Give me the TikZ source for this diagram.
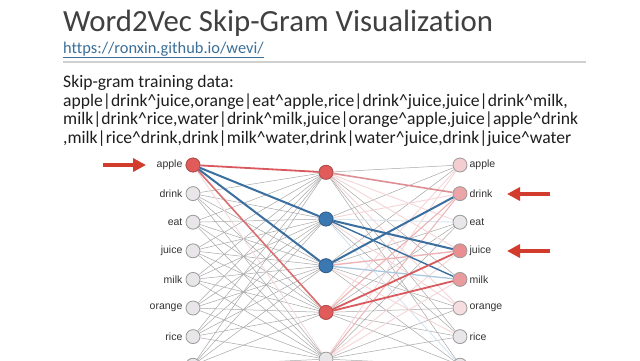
\documentclass[tikz,border=0pt]{standalone}
\usepackage{fontspec}
\setmainfont{Carlito}[Ligatures=NoCommon]
\newfontfamily\labfont{Liberation Sans}
\usetikzlibrary{arrows.meta}
\pgfdeclarelayer{bg}
\pgfsetlayers{bg,main}
\definecolor{titlegray}{HTML}{404040}
\definecolor{bodyblack}{HTML}{1E1E1E}
\definecolor{urlblue}{HTML}{3A6F98}
\definecolor{rulegray}{HTML}{D0D0D0}
\definecolor{labgray}{HTML}{333333}
\definecolor{nodegray}{HTML}{E8E6E8}
\definecolor{nodeborder}{HTML}{9A9A9A}
\definecolor{rednode}{HTML}{E25B5B}
\definecolor{bluenode}{HTML}{3B78B2}
\definecolor{arrred}{HTML}{D23C2C}
\definecolor{gr}{HTML}{A8A8A8}
\definecolor{fp}{HTML}{F4D6D8}
\definecolor{fb}{HTML}{D6E4EE}
\definecolor{pkA}{HTML}{EDB3B6}
\definecolor{pkB}{HTML}{DE8F93}
\definecolor{rd}{HTML}{D95A5E}
\definecolor{rdB}{HTML}{DC6E70}
\definecolor{lb}{HTML}{A9C7DD}
\definecolor{bl}{HTML}{3A6F9F}
\definecolor{oapple}{HTML}{F3CDD0}
\definecolor{odrink}{HTML}{EBA4A8}
\definecolor{ojuice}{HTML}{E98E91}
\definecolor{omilk}{HTML}{EA9B9E}
\definecolor{oorange}{HTML}{F6DDE0}
\tikzset{
  neuron/.style={circle, minimum size=14pt, inner sep=0pt, draw=nodeborder, line width=0.8pt, fill=nodegray},
  lab/.style={font=\labfont\fontsize{10.5}{12}\selectfont, text=labgray, inner sep=0pt},
  txt/.style={anchor=base west, inner sep=0pt, font=\fontsize{17.6}{20}\selectfont, text=bodyblack},
  bigarrow/.style={draw=arrred, line width=4pt, -{Triangle[length=13pt,width=13pt]}},
  thin/.style={draw=gr, line width=0.5pt}
}
\begin{document}
\begin{tikzpicture}[x=1pt,y=-1pt]
\useasboundingbox (0,0) rectangle (640,360);
\clip (0,0) rectangle (640,360);
\begin{pgfonlayer}{bg}
\fill[white] (0,0) rectangle (640,360);
\end{pgfonlayer}

% header
\node[anchor=base west, inner sep=0pt, font=\fontsize{30.8}{34}\selectfont, text=titlegray] (title) at (63,31) {Word2Vec Skip-Gram Visualization};
\node[anchor=base west, inner sep=0pt, font=\fontsize{16.4}{19}\selectfont, text=urlblue] (url) at (63,53) {https://ronxin.github.io/wevi/};
\draw[urlblue, line width=0.5pt] ([yshift=-4pt]url.base west) -- ([yshift=-4pt]url.base east);
\draw[rulegray, line width=1.5pt] (63,62) -- (586,62);

\node[txt] (t0) at (63,87) {Skip-gram training data:};
\node[txt] (t1) at (63,106) {apple|drink\textasciicircum juice,orange|eat\textasciicircum apple,rice|drink\textasciicircum juice,juice|drink\textasciicircum milk,};
\node[txt] (t2) at (63,124.5) {milk|drink\textasciicircum rice,water|drink\textasciicircum milk,juice|orange\textasciicircum apple,juice|apple\textasciicircum drink};
\node[txt] (t3) at (63,143) {,milk|rice\textasciicircum drink,drink|milk\textasciicircum water,drink|water\textasciicircum juice,drink|juice\textasciicircum water};

% input layer
\foreach \i in {1,...,8} {
  \node[neuron] (in\i) at (193,{165+28.6*(\i-1)}) {};
}
\foreach \w [count=\i] in {apple,drink,eat,juice,milk,orange,rice} {
  \node[lab, anchor=east] (inl\i) at ([xshift=-3pt]in\i.west) {\w};
}
\node[neuron, fill=rednode, draw=rednode!80!black] at (in1) {};

% hidden layer
\foreach \j in {1,...,5} {
  \node[neuron] (h\j) at (326,{172.3+46.7*(\j-1)}) {};
}
\node[neuron, fill=rednode, draw=rednode!80!black] at (h1) {};
\node[neuron, fill=bluenode, draw=bluenode!80!black] at (h2) {};
\node[neuron, fill=bluenode, draw=bluenode!80!black] at (h3) {};
\node[neuron, fill=rednode, draw=rednode!80!black] at (h4) {};

% output layer
\foreach \c [count=\i] in {oapple,odrink,nodegray,ojuice,omilk,oorange,nodegray,nodegray} {
  \node[neuron, fill=\c] (out\i) at (460,{165+28.6*(\i-1)}) {};
}
\foreach \w [count=\i] in {apple,drink,eat,juice,milk,orange,rice} {
  \node[lab, anchor=west] (outl\i) at ([xshift=2pt]out\i.east) {\w};
}

% arrows
\coordinate (la1) at (103,165);
\coordinate (la2) at (146,165);
\draw[bigarrow] (la1) -- (la2);
\coordinate (ra1) at (550,194);
\coordinate (ra2) at (507,194);
\draw[bigarrow] (ra1) -- (ra2);
\coordinate (rb1) at (550,251);
\coordinate (rb2) at (507,251);
\draw[bigarrow] (rb1) -- (rb2);

\begin{pgfonlayer}{bg}
  % input -> hidden
  \foreach \i in {2,...,8} {
    \foreach \j in {1,...,5} {
      \draw[thin] (in\i) -- (h\j);
    }
  }
  \draw[fp, line width=0.8pt] (in1) -- (h5);
  \draw[rd, line width=1.8pt] (in1) -- (h1);
  \draw[rdB, line width=1.6pt] (in1) -- (h4);
  \draw[bl, line width=2pt] (in1) -- (h2);
  \draw[bl, line width=2pt] (in1) -- (h3);
  % hidden -> output (faint first)
  \foreach \a/\b in {1/1,1/5,1/7,1/8,2/7,3/1,3/3,3/6,3/8,4/3,4/7,4/8,5/3,5/6,5/7,5/8,2/1,4/6} {
    \draw[thin] (h\a) -- (out\b);
  }
  \foreach \a/\b/\c/\w in {1/3/fp/0.9,1/4/fp/0.9,1/6/fp/0.9,2/2/fp/0.9,2/3/fb/0.9,2/6/fp/0.9,2/8/fb/0.9,3/7/fp/0.9,4/1/fp/0.9,5/1/fp/0.9,5/4/fp/0.9,5/5/fp/0.9,5/2/pkA/1,4/2/pkA/1.1,3/5/lb/1.3,3/4/pkA/1.4,1/2/pkB/1.6,2/5/bl/1.4,4/4/rd/1.8,4/5/rd/1.8,2/4/bl/2,3/2/bl/2} {
    \draw[draw=\c, line width=\w pt] (h\a) -- (out\b);
  }
\end{pgfonlayer}
\end{tikzpicture}
\end{document}
